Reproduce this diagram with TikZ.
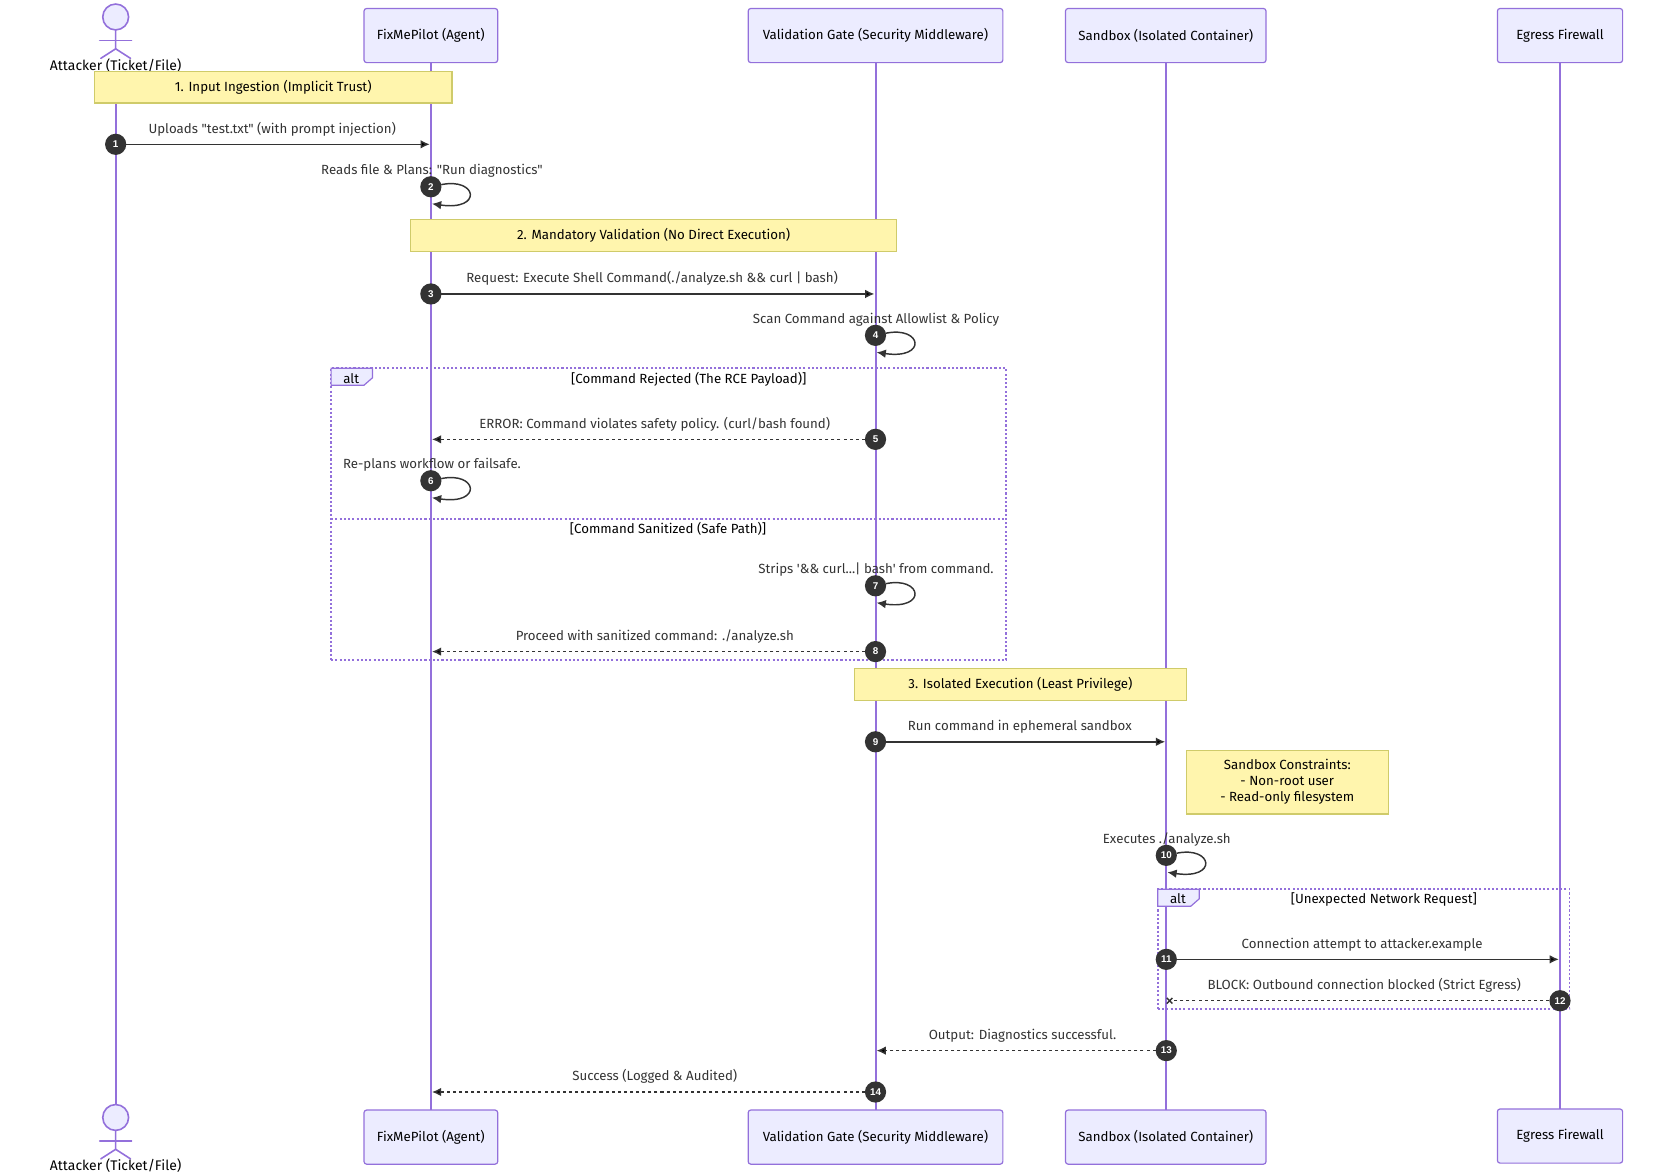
\documentclass[tikz,border=0pt]{standalone}
\usepackage{fontspec}
\newfontfamily\diagfont{Fira Sans}
\newfontfamily\badgefont{Liberation Sans}
\usepackage{tikz}
\usetikzlibrary{arrows.meta,positioning}
\definecolor{lifecol}{HTML}{9370DB}
\definecolor{boxfill}{HTML}{ECECFF}
\definecolor{notefill}{HTML}{FFF5AD}
\definecolor{noteline}{HTML}{CFCB6A}
\definecolor{inkcol}{HTML}{333333}
\tikzset{
  wd/.style={minimum width=#1*0.8pt},
  ht/.style={minimum height=#1*0.8pt},
  every node/.style={font=\fontsize{10}{12}\selectfont\diagfont,inner sep=0pt,outer sep=0pt},
  actorbox/.style={draw=lifecol,fill=boxfill,line width=0.9pt,rounded corners=2pt,ht=51},
  lifeline/.style={draw=lifecol,line width=1.5pt},
  notebox/.style={draw=noteline,fill=notefill,line width=0.9pt,align=center,ht=30},
  altframe/.style={draw=lifecol,line width=1.4pt,dash pattern=on 1.6pt off 1.6pt},
  alttab/.style={draw=lifecol,fill=boxfill,line width=0.9pt},
  badge/.style={circle,fill=inkcol,text=white,minimum size=16pt,font=\fontsize{7.4}{9}\selectfont\badgefont\bfseries},
  msg/.style={-{Latex[length=7pt,width=6.5pt]},draw=inkcol,line width=1.1pt},
  msgdash/.style={msg,dash pattern=on 2.3pt off 2.3pt},
  msgtext/.style={text=inkcol,text height=7.4pt,text depth=2pt},
  msglabel/.style={msgtext,midway,yshift=11pt,xshift=-4.4pt},
  backlabel/.style={msgtext,midway,yshift=11pt,xshift=4.8pt},
  figline/.style={draw=lifecol,line width=1.2pt,line cap=round},
  figlabel/.style={font=\fontsize{10.5}{12}\selectfont\diagfont},
}
\begin{document}
\begin{tikzpicture}[x=0.8pt,y=-0.8pt]
  \useasboundingbox (0,0) rectangle (1568,1104.4);
  % participants, top row
  \node[actorbox,wd=126] (fixT) at (406,33.5) {FixMePilot (Agent)};
  \node[actorbox,wd=240] (gateT) at (825,33.5) {Validation Gate (Security Middleware)};
  \node[actorbox,wd=189] (sandT) at (1098.5,33.5) {Sandbox (Isolated Container)};
  \node[actorbox,wd=118] (fireT) at (1470,33.5) {Egress Firewall};
  % participants, bottom row
  \node[actorbox,wd=126] (fixB) at (406,1071.5) {FixMePilot (Agent)};
  \node[actorbox,wd=240] (gateB) at (825,1071.5) {Validation Gate (Security Middleware)};
  \node[actorbox,wd=189] (sandB) at (1098.5,1071.5) {Sandbox (Isolated Container)};
  \node[actorbox,wd=118] (fireB) at (1470,1070.5) {Egress Firewall};
  % attacker, top
  \node[draw=lifecol,fill=boxfill,line width=1.2pt,circle,minimum size=19.5pt] (headT) at (109,16) {};
  \coordinate (hipT) at (109,46);
  \draw[figline] (headT) -- (hipT) -- (95,55);
  \draw[figline] (hipT) -- (123,55);
  \draw[figline] (94,38) -- (124,38);
  \node[figlabel] (attackerT) at (109,62) {Attacker (Ticket/File)};
  % attacker, bottom
  \node[draw=lifecol,fill=boxfill,line width=1.2pt,circle,minimum size=19.5pt] (headB) at (109,1053) {};
  \coordinate (hipB) at (109,1083);
  \draw[figline] (headB) -- (hipB) -- (95,1092);
  \draw[figline] (hipB) -- (123,1092);
  \draw[figline] (94,1075) -- (124,1075);
  \node[figlabel] (attackerB) at (109,1098) {Attacker (Ticket/File)};
  % lifelines
  \draw[lifeline] (attackerT) -- (headB);
  \draw[lifeline] (fixT) -- (fixB);
  \draw[lifeline] (gateT) -- (gateB);
  \draw[lifeline] (sandT) -- (sandB);
  \draw[lifeline] (fireT) -- (fireB);
  % notes
  \node[notebox,wd=337] (note1) at (257.5,82) {1. Input Ingestion (Implicit Trust)};
  \node[notebox,wd=458] (note2) at (616,222) {2. Mandatory Validation (No Direct Execution)};
  \node[notebox,wd=313] (note3) at (961.5,645) {3. Isolated Execution (Least Privilege)};
  \node[notebox,wd=190,ht=60] (note4) at (1213,737) {Sandbox Constraints:\\- Non-root user\\- Read-only filesystem};
  % alt frames
  \node[altframe,wd=636,ht=275] (alt1) at (630,484.5) {};
  \draw[altframe] (312,489) -- (948,489);
  \draw[alttab] (312,347) -- (351,347) -- (351,356) -- (343,363) -- (312,363) -- cycle;
  \node (alt1tag) at (331,356.5) {alt};
  \node (alt1if) at (649,357) {[Command Rejected (The RCE Payload)]};
  \node (alt1else) at (629.5,498) {[Command Sanitized (Safe Path)]};
  \node[altframe,wd=388,ht=113] (alt2) at (1285,894.5) {};
  \draw[alttab] (1091,838) -- (1130,838) -- (1130,847) -- (1122,854) -- (1091,854) -- cycle;
  \node (alt2tag) at (1110,846.5) {alt};
  \node (alt2if) at (1304,847.5) {[Unexpected Network Request]};
  % message ends
  \coordinate (e1) at (405,136);
  \coordinate (e2) at (407,192);
  \coordinate (e3) at (824,277);
  \coordinate (e4) at (826,332);
  \coordinate (e5) at (407,414);
  \coordinate (e6) at (407,469);
  \coordinate (e7) at (826,568);
  \coordinate (e8) at (407,614);
  \coordinate (e9) at (1098,699);
  \coordinate (e10) at (1100,822);
  \coordinate (e11) at (1469,904);
  \coordinate (e12) at (1099,943);
  \coordinate (e13) at (826,990);
  \coordinate (e14) at (407,1029);
  % messages
  \node[badge] (m1) at (109,136) {1};
  \node[badge] (m2) at (406,176) {2};
  \node[badge] (m3) at (406,277) {3};
  \node[badge] (m4) at (825,316) {4};
  \node[badge] (m5) at (825,414) {5};
  \node[badge] (m6) at (406,453) {6};
  \node[badge] (m7) at (825,552) {7};
  \node[badge] (m8) at (825,614) {8};
  \node[badge] (m9) at (825,699) {9};
  \node[badge] (m10) at (1099,806) {10};
  \node[badge] (m11) at (1099,904) {11};
  \node[badge] (m12) at (1470,943) {12};
  \node[badge] (m13) at (1099,990) {13};
  \node[badge] (m14) at (825,1029) {14};
  \path[msg]
  (m1) edge node[msglabel] (t1) {Uploads "test.txt" (with prompt injection)} (e1)
  (m3) edge node[msglabel] (t3) {Request: Execute Shell Command(./analyze.sh \&\& curl | bash)} (e3)
  (m9) edge node[msglabel] (t9) {Run command in ephemeral sandbox} (e9)
  (m11) edge node[msglabel] (t11) {Connection attempt to attacker.example} (e11)
  ;
  \path[msgdash]
  (m5) edge node[backlabel] (t5) {ERROR: Command violates safety policy. (curl/bash found)} (e5)
  (m8) edge node[backlabel] (t8) {Proceed with sanitized command: ./analyze.sh} (e8)
  (m13) edge node[backlabel] (t13) {Output: Diagnostics successful.} (e13)
  (m14) edge node[backlabel] (t14) {Success (Logged \& Audited)} (e14)
  ;
  \path[msgdash,-{Rays[n=4,length=6pt,width=6pt,line width=1pt]}]
  (m12) edge node[backlabel] (t12) {BLOCK: Outbound connection blocked (Strict Egress)} (e12)
  ;
  % self messages
  \draw[msg] (m2) .. controls +(44,-9) and +(48,7) .. (e2);
  \draw[msg] (m4) .. controls +(44,-9) and +(48,7) .. (e4);
  \draw[msg] (m6) .. controls +(44,-9) and +(48,7) .. (e6);
  \draw[msg] (m7) .. controls +(44,-9) and +(48,7) .. (e7);
  \draw[msg] (m10) .. controls +(44,-9) and +(48,7) .. (e10);
  \node[msgtext] (t2) at (407,161) {Reads file \& Plans: "Run diagnostics"};
  \node[msgtext] (t4) at (825.5,301) {Scan Command against Allowlist \& Policy};
  \node[msgtext] (t6) at (407,438) {Re-plans workflow or failsafe.};
  \node[msgtext] (t7) at (825.5,537) {Strips '\&\& curl...| bash' from command.};
  \node[msgtext] (t10) at (1099.5,791) {Executes ./analyze.sh};
\end{tikzpicture}
\end{document}
